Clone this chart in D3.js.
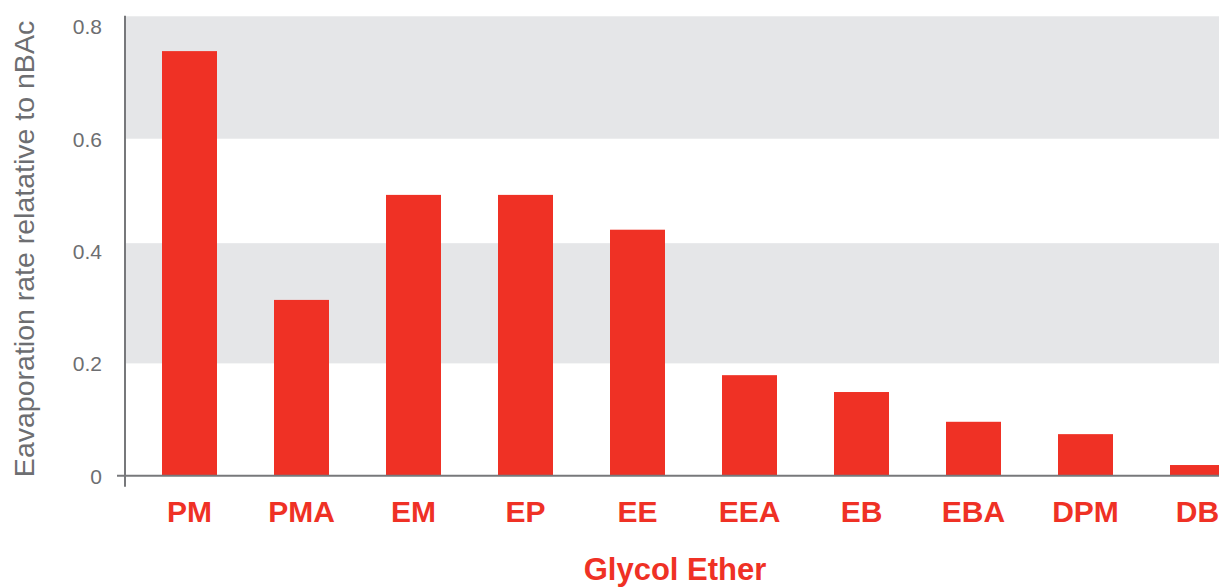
<!DOCTYPE html>
<html>
<head>
<meta charset="utf-8">
<script src="https://cdn.jsdelivr.net/npm/d3@7/dist/d3.min.js"></script>
<style>
  html, body { margin: 0; padding: 0; background: #ffffff; }
  svg { display: block; }
</style>
</head>
<body>
<div id="chart"></div>
<script>
// ---- data ----
const categories = ["PM", "PMA", "EM", "EP", "EE", "EEA", "EB", "EBA", "DPM", "DB"];
const values = [0.756, 0.313, 0.50, 0.50, 0.438, 0.179, 0.149, 0.096, 0.074, 0.019];
const tickValues = [0, 0.2, 0.4, 0.6, 0.8];
const tickLabels = ["0", "0.2", "0.4", "0.6", "0.8"];
const bandRanges = [[0.2, 0.414], [0.6, 0.818]];
const yTitle = "Eavaporation rate relatative to nBAc";
const xTitle = "Glycol Ether";

// ---- layout ----
const W = 1219, H = 588;
const RED = "#ef3125", GRID = "#e5e6e8", AXIS = "#77787b", TEXT = "#6d6e71";

const svg = d3.select("#chart").append("svg").attr("width", W).attr("height", H);

const y = d3.scaleLinear().domain([0, 0.8]).range([475.7, 26.4]);
const x = d3.scaleBand().domain(categories).range([133.5, 1253.5])
  .paddingInner(0.509).paddingOuter(0.2545);

const axisX0 = 125;

// background bands
svg.append("g").selectAll("rect").data(bandRanges).join("rect")
  .attr("x", axisX0)
  .attr("width", W - axisX0)
  .attr("y", d => y(d[1]))
  .attr("height", d => y(d[0]) - y(d[1]))
  .attr("fill", GRID);

// bars
svg.append("g").selectAll("rect").data(categories).join("rect")
  .attr("x", d => x(d))
  .attr("width", x.bandwidth())
  .attr("y", (d, i) => y(values[i]))
  .attr("height", (d, i) => y(0) - y(values[i]))
  .attr("fill", RED);

// y axis (labels only)
const yAxis = d3.axisLeft(y).tickValues(tickValues)
  .tickFormat((d, i) => tickLabels[i]).tickSize(0).tickPadding(23);
const gy = svg.append("g").attr("transform", `translate(${axisX0},0)`).call(yAxis);
gy.select(".domain").remove();
gy.selectAll("text")
  .attr("font-family", "'Liberation Sans', Arial, sans-serif")
  .attr("font-size", 21)
  .attr("fill", TEXT)
  .attr("dy", "0.36em");

// x axis (labels only)
const xAxis = d3.axisBottom(x).tickSize(0);
const gx = svg.append("g").attr("transform", `translate(0,${y(0)})`).call(xAxis);
gx.select(".domain").remove();
gx.selectAll("text")
  .attr("y", 46)
  .attr("dy", 0)
  .attr("font-family", "'Liberation Sans', Arial, sans-serif")
  .attr("font-weight", "bold")
  .attr("font-size", 30)
  .attr("fill", RED);

// axis lines
svg.append("line")
  .attr("x1", axisX0).attr("x2", axisX0)
  .attr("y1", y(0.819)).attr("y2", y(0) + 11)
  .attr("stroke", AXIS).attr("stroke-width", 2);
svg.append("line")
  .attr("x1", 117).attr("x2", W)
  .attr("y1", y(0)).attr("y2", y(0))
  .attr("stroke", AXIS).attr("stroke-width", 2);

// titles
svg.append("text")
  .attr("transform", `translate(33.5,249) rotate(-90)`)
  .attr("text-anchor", "middle")
  .attr("font-family", "'Liberation Sans', Arial, sans-serif")
  .attr("font-size", 28.5)
  .attr("fill", TEXT)
  .text(yTitle);

svg.append("text")
  .attr("x", 675).attr("y", 580)
  .attr("text-anchor", "middle")
  .attr("font-family", "'Liberation Sans', Arial, sans-serif")
  .attr("font-weight", "bold")
  .attr("font-size", 31)
  .attr("fill", RED)
  .text(xTitle);
</script>
</body>
</html>
